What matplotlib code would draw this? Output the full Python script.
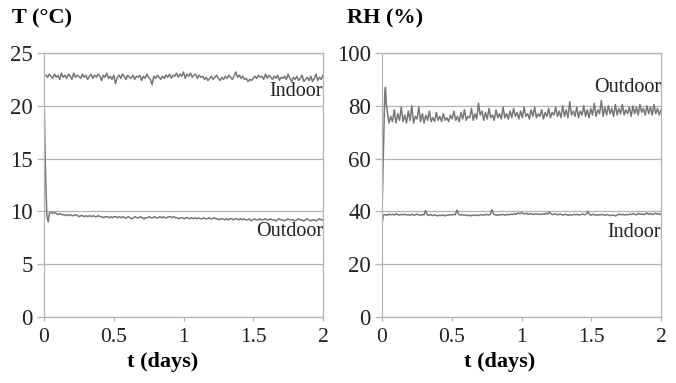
import numpy as np
import matplotlib
matplotlib.use('Agg')
import matplotlib.pyplot as plt

plt.rcParams['font.family'] = ['Liberation Serif', 'DejaVu Serif']

# Temperature (deg C)
t_in_T_start = 0.0125
T_in = [22.9, 22.7, 23.0, 22.8, 22.6, 23.0, 22.7, 22.9, 22.5, 23.1,
        22.7, 22.9, 22.6, 23.0, 22.8, 22.5, 23.1, 22.7, 22.9, 22.8,
        22.6, 23.0, 22.7, 22.9, 22.5, 22.8, 23.0, 22.6, 22.9, 22.7,
        23.0, 22.8, 22.4, 22.9, 22.7, 23.1, 22.6, 22.8, 22.5, 22.9,
        22.1, 22.7, 22.9, 22.6, 23.0, 22.8, 22.5, 22.9, 22.7, 22.6,
        22.9, 22.5, 22.8, 22.7, 22.9, 22.4, 22.8, 22.6, 23.0, 22.7,
        22.5, 22.0, 22.8, 22.6, 22.9, 22.7, 22.5, 22.8, 22.6, 22.9,
        22.7, 23.0, 22.6, 22.9, 22.8, 23.1, 22.7, 23.0, 22.8, 23.2,
        22.6, 23.0, 22.8, 23.1, 22.7, 22.9, 23.0, 22.6, 22.9, 22.7,
        22.8, 22.5, 22.7, 22.4, 22.6, 22.8, 22.5, 22.7, 22.9, 22.6,
        22.4, 22.7, 22.5, 22.8, 22.6, 22.9, 22.7, 22.5, 22.8, 23.2,
        22.7, 22.9, 22.6, 22.8, 22.5, 22.6, 22.3, 22.5, 22.4, 22.6,
        22.8, 22.6, 22.9, 22.7, 22.8, 22.5, 23.0, 22.6, 22.9, 22.7,
        22.5, 22.8, 22.6, 22.9, 22.4, 22.7, 22.6, 22.8, 22.5, 23.0,
        22.6, 22.3, 22.7, 22.5, 22.8, 22.4, 22.6, 22.9, 22.3, 22.5,
        22.7, 22.4, 22.8, 22.3, 22.6, 23.0, 22.4, 22.7, 22.5, 22.9]

# outdoor logger: first minutes still at room temperature
t_out_T_first = [0.0, 0.01, 0.02, 0.03, 0.04]
T_out_first = [21.2, 14.0, 9.6, 9.0, 9.9]
T_out = [9.9, 9.8, 9.9, 9.8, 9.7, 9.8, 9.7, 9.7, 9.6, 9.7,
         9.6, 9.7, 9.6, 9.6, 9.7, 9.6, 9.5, 9.6, 9.6, 9.5,
         9.6, 9.5, 9.6, 9.5, 9.6, 9.5, 9.5, 9.6, 9.5, 9.5,
         9.4, 9.5, 9.5, 9.4, 9.5, 9.4, 9.5, 9.5, 9.4, 9.5,
         9.4, 9.5, 9.4, 9.4, 9.5, 9.4, 9.3, 9.4, 9.5, 9.4,
         9.4, 9.5, 9.4, 9.3, 9.4, 9.4, 9.5, 9.4, 9.4, 9.5,
         9.4, 9.4, 9.5, 9.4, 9.5, 9.4, 9.4, 9.5, 9.5, 9.4,
         9.5, 9.4, 9.4, 9.3, 9.4, 9.4, 9.3, 9.4, 9.4, 9.3,
         9.4, 9.3, 9.4, 9.3, 9.4, 9.3, 9.3, 9.4, 9.3, 9.3,
         9.4, 9.3, 9.3, 9.4, 9.3, 9.3, 9.2, 9.3, 9.3, 9.2,
         9.3, 9.2, 9.3, 9.3, 9.2, 9.3, 9.3, 9.2, 9.3, 9.2,
         9.3, 9.2, 9.2, 9.3, 9.1, 9.2, 9.3, 9.2, 9.2, 9.3,
         9.2, 9.2, 9.3, 9.2, 9.2, 9.3, 9.2, 9.2, 9.1, 9.2,
         9.3, 9.2, 9.2, 9.1, 9.2, 9.3, 9.2, 9.2, 9.2, 9.1,
         9.2, 9.3, 9.2, 9.2, 9.1, 9.2, 9.3, 9.2, 9.1, 9.2,
         9.2, 9.1, 9.2, 9.3, 9.2, 9.2]

# Relative humidity (%)
t_out_RH_first = [0.0, 0.01, 0.02, 0.025, 0.03, 0.04]
RH_out_first = [40.0, 62.0, 85.0, 87.0, 81.0, 77.0]
RH_out = [73.5, 76.0, 74.0, 78.5, 73.5, 77.0, 74.5, 79.5, 74.0, 76.5,
          73.5, 78.0, 74.5, 80.0, 73.5, 76.0, 75.0, 79.5, 74.0, 77.0,
          73.5, 76.5, 74.5, 78.0, 74.0, 75.5, 74.0, 77.5, 74.5, 76.0,
          74.0, 77.0, 74.5, 75.5, 74.0, 76.5, 75.0, 78.0, 74.5, 76.0,
          74.0, 77.5, 75.0, 78.5, 74.5, 76.0, 75.5, 79.0, 74.5, 77.0,
          75.0, 81.0, 76.5, 78.0, 74.5, 77.5, 75.0, 79.0, 75.5, 76.5,
          74.5, 78.5, 75.5, 77.0, 75.0, 79.5, 75.5, 77.0, 75.0, 78.0,
          75.5, 79.0, 76.0, 77.5, 75.0, 78.0, 75.5, 79.5, 76.0, 77.0,
          75.0, 78.5, 76.0, 79.5, 75.5, 77.0, 76.0, 78.5, 75.0, 77.5,
          76.0, 79.0, 75.5, 77.5, 76.5, 79.5, 76.0, 78.0, 75.5, 80.0,
          76.0, 78.5, 75.5, 81.5, 76.5, 78.0, 76.0, 79.5, 75.5, 78.0,
          76.5, 80.0, 76.0, 78.5, 75.5, 79.0, 76.5, 81.0, 76.0, 78.5,
          77.0, 82.0, 76.0, 79.5, 76.5, 80.0, 77.0, 79.0, 76.0, 80.5,
          76.5, 79.0, 77.0, 80.5, 76.5, 78.5, 77.0, 79.5, 76.0, 80.0,
          77.0, 79.5, 76.5, 80.5, 77.5, 79.0, 76.5, 80.0, 77.0, 79.5,
          76.5, 80.5, 77.0, 79.0, 76.5, 78.5]

t_in_RH_first = [0.0, 0.01]
RH_in_first = [35.5, 38.5]
RH_in = [38.6, 38.8, 38.5, 39.0, 38.7, 38.9, 38.6, 39.1, 38.8, 38.6,
         38.9, 38.7, 39.0, 38.6, 38.8, 38.5, 38.9, 38.7, 38.6, 39.0,
         38.7, 38.5, 38.8, 38.6, 40.3, 38.7, 38.5, 38.8, 38.4, 38.7,
         38.5, 38.3, 38.6, 38.4, 38.7, 38.3, 38.6, 38.5, 38.8, 38.6,
         38.9, 38.7, 40.5, 38.9, 38.6, 38.8, 38.5, 38.7, 38.4, 38.6,
         38.3, 38.6, 38.5, 38.7, 38.4, 38.6, 38.8, 38.5, 38.7, 38.9,
         38.6, 38.8, 40.6, 38.9, 38.7, 38.5, 38.8, 38.6, 38.9, 38.7,
         38.6, 38.9, 38.7, 39.0, 38.8, 39.2, 38.9, 39.4, 39.1, 39.5,
         39.2, 39.0, 39.3, 38.9, 39.2, 39.0, 38.8, 39.1, 38.9, 39.0,
         38.8, 39.1, 38.9, 39.3, 39.0, 39.8, 39.0, 38.8, 39.1, 38.9,
         38.7, 39.0, 38.8, 38.6, 38.9, 38.7, 38.5, 38.8, 38.6, 38.9,
         38.7, 38.9, 38.6, 38.8, 39.0, 38.7, 38.9, 40.0, 38.8, 38.6,
         38.9, 38.7, 38.5, 38.8, 38.6, 38.9, 38.7, 38.5, 38.8, 38.6,
         38.4, 38.7, 38.5, 38.3, 38.6, 39.0, 38.7, 38.9, 38.6, 38.8,
         38.7, 39.0, 38.8, 39.2, 38.9, 38.7, 39.3, 38.9, 39.1, 38.8,
         39.0, 39.4, 38.9, 39.2, 38.8, 39.1, 39.3, 38.9, 39.1, 38.8]

x_ticks = [0, 0.5, 1, 1.5, 2]
x_ticklabels = ['0', '0.5', '1', '1.5', '2']

# sample times: readings are evenly spaced after the first entries
t_T_in = np.linspace(t_in_T_start, 2.0, len(T_in))
t_T_out = np.concatenate([t_out_T_first, np.linspace(0.05, 2.0, len(T_out))])
T_out_all = T_out_first + T_out
t_RH_out = np.concatenate([t_out_RH_first, np.linspace(0.05, 2.0, len(RH_out))])
RH_out_all = RH_out_first + RH_out
t_RH_in = np.concatenate([t_in_RH_first, np.linspace(0.0125, 2.0, len(RH_in))])
RH_in_all = RH_in_first + RH_in

line_col = '#777777'
grid_col = '#b4b4b4'

fig = plt.figure(figsize=(6.76, 3.83), dpi=100)
ax1 = fig.add_axes([0.0651, 0.1723, 0.4127, 0.6893])
ax2 = fig.add_axes([0.5651, 0.1723, 0.4127, 0.6893])


def style(ax, ymax, ystep):
    ax.set_xlim(0, 2)
    ax.set_ylim(0, ymax)
    ax.set_xticks(x_ticks)
    ax.set_xticklabels(x_ticklabels)
    ax.set_yticks(np.arange(0, ymax + 1, ystep))
    ax.grid(axis='y', color=grid_col, linewidth=0.9)
    ax.set_axisbelow(True)
    for side in ['left', 'bottom', 'top', 'right']:
        ax.spines[side].set_color(grid_col)
        ax.spines[side].set_linewidth(0.9)
    ax.tick_params(axis='y', length=5, width=0.9, color=grid_col, labelsize=16.5,
                   pad=3, labelcolor='#222222')
    ax.tick_params(axis='x', length=3, width=0.9, color=grid_col, labelsize=15.5,
                   pad=5, labelcolor='#222222')


ax1.plot(t_T_in, T_in, color=line_col, lw=1.1)
ax1.plot(t_T_out, T_out_all, color=line_col, lw=1.1)
style(ax1, 25, 5)
ax1.text(2.0, 21.4, 'Indoor', ha='right', va='center', fontsize=14.5, color='#222222')
ax1.text(2.0, 8.1, 'Outdoor', ha='right', va='center', fontsize=14.5, color='#222222')

ax2.plot(t_RH_out, RH_out_all, color=line_col, lw=1.1)
ax2.plot(t_RH_in, RH_in_all, color=line_col, lw=1.1)
style(ax2, 100, 20)
ax2.text(2.0, 87, 'Outdoor', ha='right', va='center', fontsize=14.5, color='#222222')
ax2.text(2.0, 32, 'Indoor', ha='right', va='center', fontsize=14.5, color='#222222')

fig.text(12 / 676, 1 - 18 / 383, 'T (°C)', ha='left', va='center', fontsize=16, fontweight='bold')
fig.text(347 / 676, 1 - 18 / 383, 'RH (%)', ha='left', va='center', fontsize=16, fontweight='bold')
fig.text(163 / 676, 1 - 362 / 383, 't (days)', ha='center', va='center', fontsize=16, fontweight='bold')
fig.text(500 / 676, 1 - 362 / 383, 't (days)', ha='center', va='center', fontsize=16, fontweight='bold')

fig.savefig('out.png', dpi=100)
